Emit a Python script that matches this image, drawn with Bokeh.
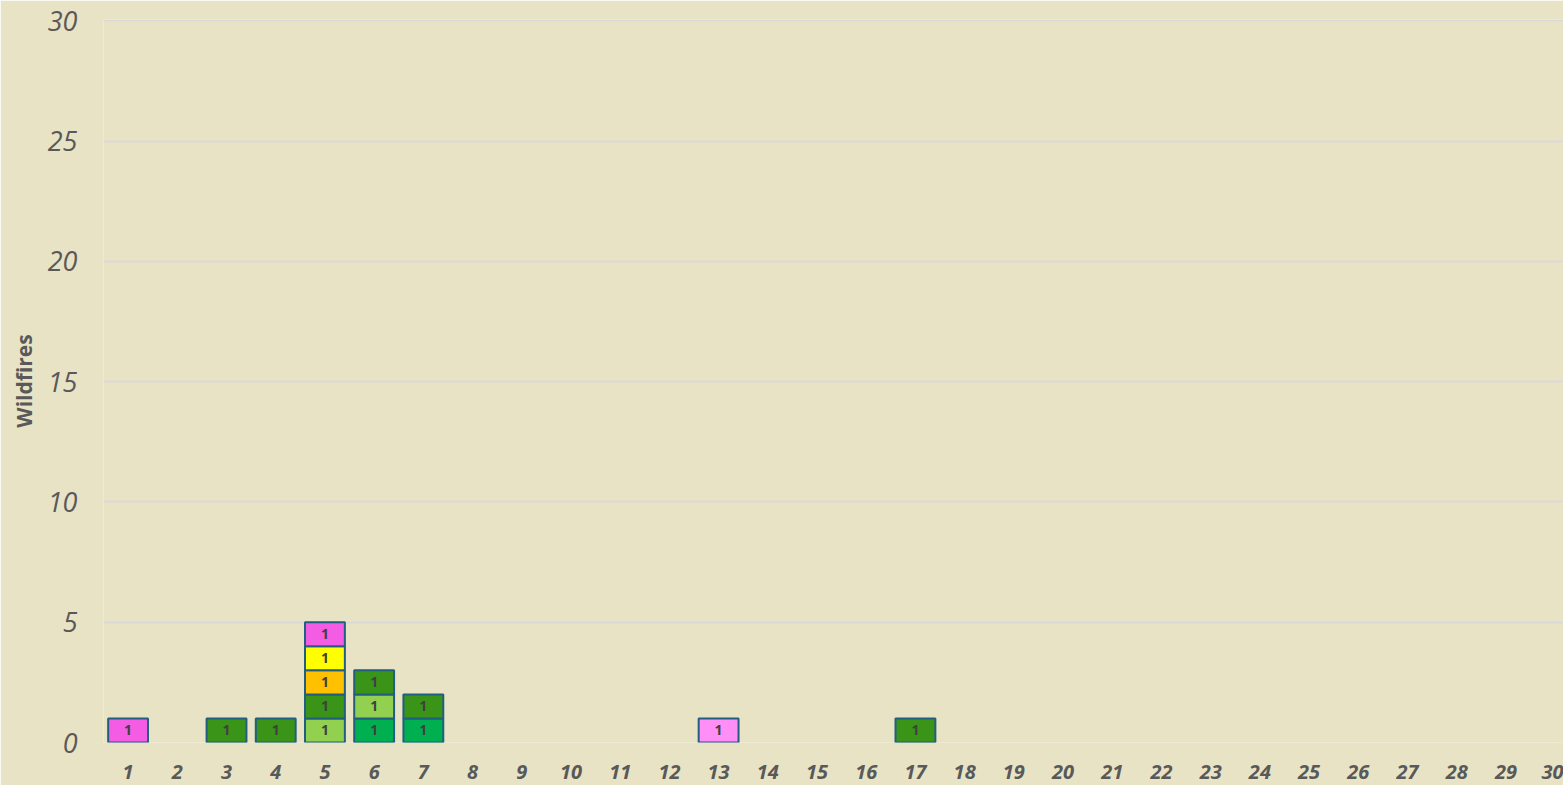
from bokeh.plotting import figure
from bokeh.models import ColumnDataSource, Range1d, FixedTicker
from bokeh.core.properties import value
from bokeh.embed import file_html
from bokeh.resources import INLINE

days = list(range(1, 31))
series_names = ["emerald", "light_green", "dark_green", "orange", "yellow", "magenta", "light_pink"]
emerald     = [0, 0, 0, 0, 0, 1, 1, 0, 0, 0, 0, 0, 0, 0, 0, 0, 0, 0, 0, 0, 0, 0, 0, 0, 0, 0, 0, 0, 0, 0]
light_green = [0, 0, 0, 0, 1, 1, 0, 0, 0, 0, 0, 0, 0, 0, 0, 0, 0, 0, 0, 0, 0, 0, 0, 0, 0, 0, 0, 0, 0, 0]
dark_green  = [0, 0, 1, 1, 1, 1, 1, 0, 0, 0, 0, 0, 0, 0, 0, 0, 1, 0, 0, 0, 0, 0, 0, 0, 0, 0, 0, 0, 0, 0]
orange      = [0, 0, 0, 0, 1, 0, 0, 0, 0, 0, 0, 0, 0, 0, 0, 0, 0, 0, 0, 0, 0, 0, 0, 0, 0, 0, 0, 0, 0, 0]
yellow      = [0, 0, 0, 0, 1, 0, 0, 0, 0, 0, 0, 0, 0, 0, 0, 0, 0, 0, 0, 0, 0, 0, 0, 0, 0, 0, 0, 0, 0, 0]
magenta     = [1, 0, 0, 0, 1, 0, 0, 0, 0, 0, 0, 0, 0, 0, 0, 0, 0, 0, 0, 0, 0, 0, 0, 0, 0, 0, 0, 0, 0, 0]
light_pink  = [0, 0, 0, 0, 0, 0, 0, 0, 0, 0, 0, 0, 1, 0, 0, 0, 0, 0, 0, 0, 0, 0, 0, 0, 0, 0, 0, 0, 0, 0]
colors = ["#00B050", "#92D050", "#3A9418", "#FFC000", "#FFFF00", "#F45CE3", "#FF8EF6"]
y_ticks = [0, 5, 10, 15, 20, 25, 30]

series_values = [emerald, light_green, dark_green, orange, yellow, magenta, light_pink]

BG = "#E8E3C5"
p = figure(width=1563, height=785, output_backend="svg", toolbar_location=None,
           x_range=Range1d(0.5, 30.17), y_range=Range1d(0, 30.05),
           min_border_left=103, min_border_right=0, min_border_top=19, min_border_bottom=43,
           background_fill_color=BG, border_fill_color=BG)
p.outline_line_color = None

# stacked segments (zero values are skipped)
lx, ly, lt = [], [], []
base = [0] * len(days)
for name, vals, col in zip(series_names, series_values, colors):
    xs, bots, tops = [], [], []
    for i, v in enumerate(vals):
        if v > 0:
            xs.append(days[i])
            bots.append(base[i])
            tops.append(base[i] + v)
            lx.append(days[i])
            ly.append(base[i] + v / 2)
            lt.append(str(v))
        base[i] += v
    if xs:
        src = ColumnDataSource(dict(x=xs, bottom=bots, top=tops))
        p.vbar(x="x", bottom="bottom", top="top", width=0.81, source=src,
               fill_color=col, line_color="#215E80", line_width=2)

p.text(x=lx, y=ly, text=lt, text_font=value("Open Sans"), text_font_style="bold",
       text_font_size="14px", text_align="center", text_baseline="middle", text_color="#404040")

p.xgrid.grid_line_color = None
p.ygrid.grid_line_color = "#D9D9D9"
p.ygrid.grid_line_width = 2
p.ygrid.ticker = FixedTicker(ticks=y_ticks)

p.yaxis.ticker = FixedTicker(ticks=y_ticks)
p.xaxis.ticker = FixedTicker(ticks=days)
for ax in (p.xaxis[0], p.yaxis[0]):
    ax.axis_line_color = None
    ax.major_tick_line_color = None
    ax.minor_tick_line_color = None
    ax.major_label_text_font = "Open Sans"
    ax.major_label_text_color = "#595959"
    ax.major_label_text_font_style = "italic"

p.yaxis.major_label_text_font_size = "27px"
p.yaxis.major_label_standoff = 20
p.xaxis.major_label_text_font_size = "20px"
p.xaxis.major_label_text_font_style = "bold italic"
p.xaxis.major_label_standoff = 16

p.yaxis.axis_label = "Wildfires"
p.yaxis.axis_label_text_font = "Open Sans"
p.yaxis.axis_label_text_font_style = "bold"
p.yaxis.axis_label_text_font_size = "21px"
p.yaxis.axis_label_text_color = "#595959"
p.yaxis.axis_label_standoff = 7

open("out.html", "w").write(file_html(p, INLINE))
